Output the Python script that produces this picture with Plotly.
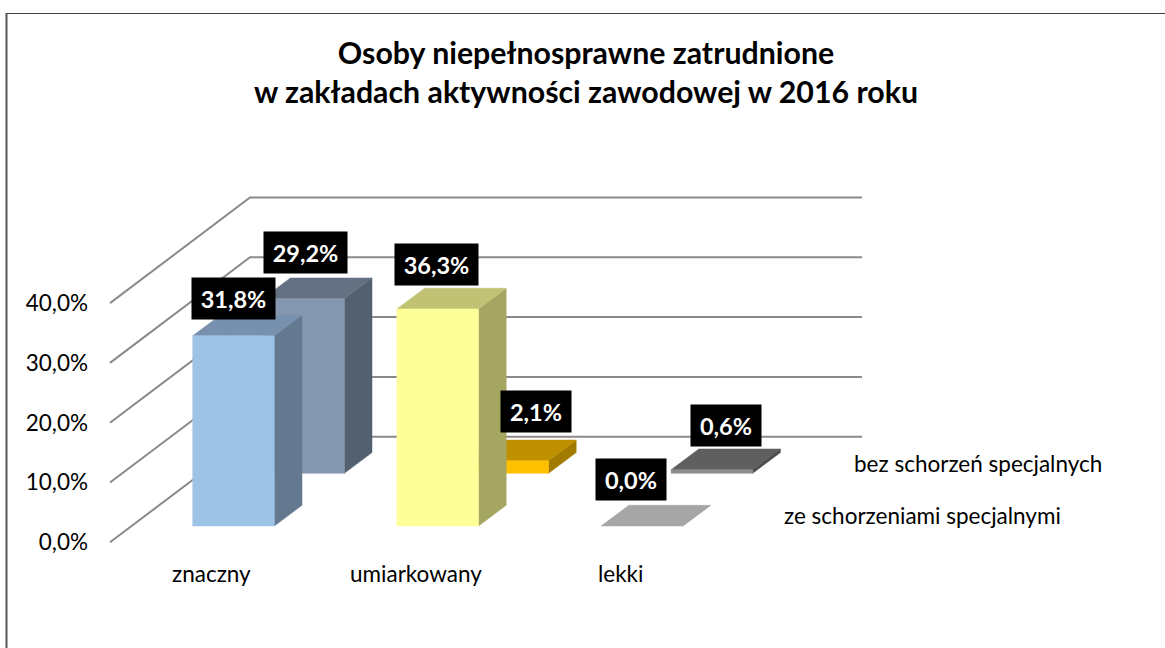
import plotly.graph_objects as go

categories = ["znaczny", "umiarkowany", "lekki"]
series_names = ["ze schorzeniami specjalnymi", "bez schorzeń specjalnych"]
values_front = [31.8, 36.3, 0.0]
values_back = [29.2, 2.1, 0.6]
ticks = [0, 10, 20, 30, 40]
tick_labels = ["0,0%", "10,0%", "20,0%", "30,0%", "40,0%"]
title_lines = ["Osoby niepełnosprawne zatrudnione",
               "w zakładach aktywności zawodowej w 2016 roku"]

W, H = 1165, 648
PX_PER_PCT = 5.98
Y0_PX = 542.3
WALL_LEFT, WALL_RIGHT, WALL_BACK_X = 110, 862, 250
WALL_DY = 105.6 / PX_PER_PCT


def py(px):
    """pixel row -> percent value on the y axis"""
    return (Y0_PX - px) / PX_PER_PCT


BAR_W, BAR_DX = 81.6, 27.7
BAR_DY = 20.7 / PX_PER_PCT
CAT_STEP = 204.2
ROW_DX = 70
BASE_FRONT = py(526)
BASE_BACK = py(473.3)
X_FRONT = 192.7

# colours per series and category: (front, side, top)
colors_front = [("#9DC3E6", "#64798F", "#7690AD"),
                ("#FFFF99", "#A6A663", "#C2C275"),
                ("#A6A6A6", "#8A8A8A", "#A6A6A6")]
colors_back = [("#8497B0", "#53606F", "#637182"),
               ("#FFC000", "#A07B00", "#BF9000"),
               ("#8C8C8C", "#4B4B4B", "#5F5F5F")]

fig = go.Figure()


def poly(xs, ys, color):
    fig.add_trace(go.Scatter(x=xs + xs[:1], y=ys + ys[:1], mode="lines", fill="toself",
                             fillcolor=color, line=dict(width=0.5, color=color),
                             hoverinfo="skip", showlegend=False))


def bar(x, base, value, cols):
    top = base + value
    r = x + BAR_W
    poly([r, r + BAR_DX, r + BAR_DX, r], [base, base + BAR_DY, top + BAR_DY, top], cols[1])
    poly([x, r, r + BAR_DX, x + BAR_DX], [top, top, top + BAR_DY, top + BAR_DY], cols[2])
    if value > 0:
        poly([x, r, r, x], [base, base, top, top], cols[0])


# walls: gridlines running from the front edge, to the back, then to the right
for t in ticks:
    fig.add_trace(go.Scatter(x=[WALL_LEFT, WALL_BACK_X, WALL_RIGHT],
                             y=[t, t + WALL_DY, t + WALL_DY], mode="lines",
                             line=dict(color="#8A8A8A", width=2),
                             hoverinfo="skip", showlegend=False))

for i, v in enumerate(values_back):
    bar(X_FRONT + CAT_STEP * i + ROW_DX, BASE_BACK, v, colors_back[i])
for i, v in enumerate(values_front):
    bar(X_FRONT + CAT_STEP * i, BASE_FRONT, v, colors_front[i])

annotations = []
font = "Lato, Carlito, sans-serif"
LABEL_SIZE = 22.5


def pct(v):
    return f"{v:.1f}%".replace(".", ",")


# data labels: manual offsets (px) of the label centre from the bar's top-centre
off_front = [(0, -37.5), (-1, -44.5), (-10.9, -46.5)]
off_back = [(2, -46), (28.3, -49.3), (14, -44)]
for vals, offs, base, dx in ((values_back, off_back, BASE_BACK, ROW_DX),
                             (values_front, off_front, BASE_FRONT, 0)):
    for i, v in enumerate(vals):
        w = 83 if v >= 10 else 70
        annotations.append(dict(
            x=X_FRONT + CAT_STEP * i + dx + BAR_W / 2 + offs[i][0],
            y=base + v - offs[i][1] / PX_PER_PCT,
            xref="x", yref="y", text=f"<b>{pct(v)}</b>", showarrow=False,
            width=w, height=41, bgcolor="#000000", borderpad=0,
            xanchor="center", yanchor="middle", align="center", valign="middle",
            font=dict(family=font, size=23.5, color="#FFFFFF")))

for i, c in enumerate(categories):
    annotations.append(dict(x=X_FRONT + 19 + CAT_STEP * i, y=py(573), xref="x", yref="y",
                            text=c, showarrow=False, xanchor="center", yanchor="middle",
                            font=dict(family=font, size=LABEL_SIZE, color="#000000")))
annotations.append(dict(x=782, y=py(515), xref="x", yref="y", text=series_names[0],
                        showarrow=False, xanchor="left", yanchor="middle",
                        font=dict(family=font, size=LABEL_SIZE, color="#000000")))
annotations.append(dict(x=852, y=py(463), xref="x", yref="y", text=series_names[1],
                        showarrow=False, xanchor="left", yanchor="middle",
                        font=dict(family=font, size=LABEL_SIZE, color="#000000")))

fig.update_layout(
    width=W, height=H, margin=dict(l=0, r=0, t=0, b=0),
    paper_bgcolor="#FFFFFF", plot_bgcolor="#FFFFFF", showlegend=False,
    title=dict(text="<b>" + "<br>".join(title_lines) + "</b>",
               font=dict(family=font, size=30.3, color="#000000"),
               x=586 / W, xanchor="center", xref="paper",
               y=1 - 63.5 / H, yanchor="middle", yref="container"),
    xaxis=dict(range=[0, W], visible=False, fixedrange=True),
    yaxis=dict(range=[py(H), py(0)], anchor="free", position=WALL_LEFT / W,
               tickmode="array", tickvals=ticks, ticktext=tick_labels,
               showgrid=False, zeroline=False, showline=False, ticks="",
               ticklabelstandoff=22, fixedrange=True,
               tickfont=dict(family=font, size=LABEL_SIZE, color="#000000")),
    annotations=annotations,
    shapes=[
        dict(type="line", xref="paper", yref="paper", x0=6.5 / W, x1=6.5 / W,
             y0=0, y1=1 - 13 / H, line=dict(color="#595959", width=2)),
        dict(type="line", xref="paper", yref="paper", x0=6 / W, x1=1,
             y0=1 - 13.5 / H, y1=1 - 13.5 / H, line=dict(color="#404040", width=1)),
    ],
)

fig.write_html("out.html", config={"displayModeBar": False},
               post_script="document.body.style.margin='0';document.body.style.overflow='hidden';")
